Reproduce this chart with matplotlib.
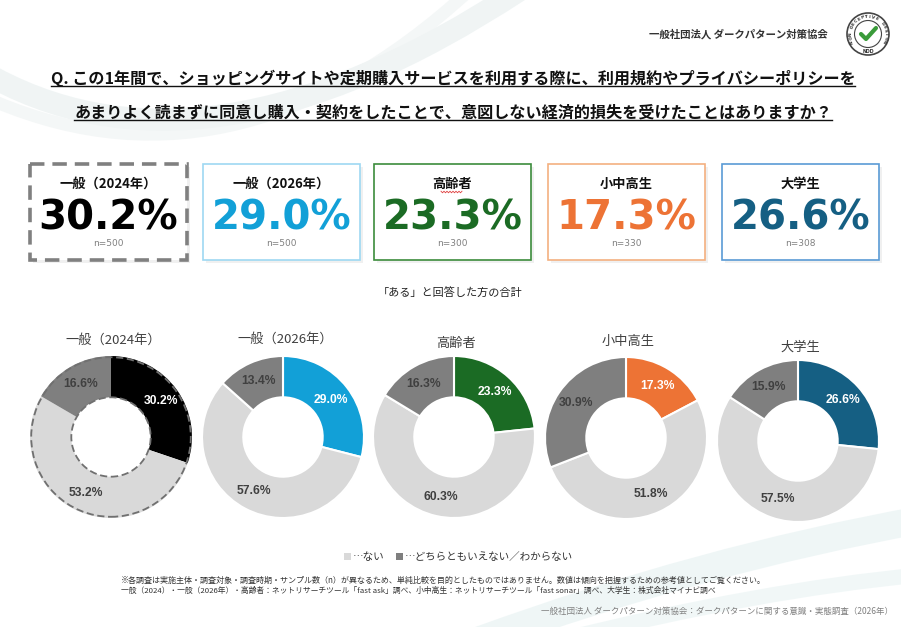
import numpy as np
import matplotlib
matplotlib.use('Agg')
import matplotlib.pyplot as plt
from matplotlib.patches import Rectangle, Circle, PathPatch
from matplotlib.path import Path

plt.rcParams['font.family'] = ['Noto Sans CJK JP', 'DejaVu Sans']

# survey results (%), one entry per respondent group
groups = ['一般（2024年）', '一般（2026年）', '高齢者', '小中高生', '大学生']
sample_sizes = [500, 500, 300, 330, 308]
aru = [30.2, 29.0, 23.3, 17.3, 26.6]        # ある
nai = [53.2, 57.6, 60.3, 51.8, 57.5]        # ない
wakaranai = [16.6, 13.4, 16.3, 30.9, 15.9]  # どちらともいえない／わからない

main_colors = ['#000000', '#12A0D7', '#1B6B24', '#ED7335', '#155F83']
box_edges = ['#808080', '#9ED8F2', '#3C8C3C', '#F4B080', '#5A9BD5']
LIGHT = '#D9D9D9'
DARK = '#7F7F7F'

W, H = 901, 627
fig = plt.figure(figsize=(W / 100, H / 100), dpi=100)
bg = fig.add_axes([0, 0, 1, 1])
bg.set_xlim(0, W)
bg.set_ylim(H, 0)
bg.axis('off')

# faint background swooshes
def swoosh(pts, color, lw, alpha):
    codes = [Path.MOVETO, Path.CURVE3, Path.CURVE3]
    bg.add_patch(PathPatch(Path(pts, codes), fill=False, edgecolor=color,
                           lw=lw, alpha=alpha, capstyle='round'))

swoosh([(-20, 70), (200, 200), (520, -10)], '#E6EEEE', 16, 0.6)
swoosh([(-20, 95), (230, 210), (470, -10)], '#F0F4F4', 9, 0.7)
swoosh([(480, 640), (700, 560), (920, 520)], '#E3F0F0', 20, 0.55)
swoosh([(560, 640), (760, 590), (920, 575)], '#EAF4F4', 11, 0.65)

# header + logo
bg.text(828, 34, '一般社団法人 ダークパターン対策協会', ha='right', va='center',
        fontsize=7.5, fontweight='bold', color='#333333')
lx, ly = 868, 34
bg.add_patch(Circle((lx, ly), 21, fill=True, facecolor='white', edgecolor='#444444', lw=1.2))
bg.add_patch(Circle((lx, ly), 13.5, fill=False, edgecolor='#444444', lw=0.8))
bg.plot([lx - 7, lx - 2, lx + 8], [ly, ly + 5, ly - 6], color='#3A9B3A', lw=3,
        solid_capstyle='round', solid_joinstyle='round')
ring = 'NON DECEPTIVE DESIGN'
angs = np.linspace(205, -25, len(ring))
for ch, a in zip(ring, angs):
    rad = np.deg2rad(a)
    bg.text(lx + 17.3 * np.cos(rad), ly - 17.3 * np.sin(rad), ch, fontsize=3.2,
            fontweight='bold', ha='center', va='center', rotation=a - 90,
            color='#333333', family='DejaVu Sans')
bg.text(lx, ly + 17.5, 'NDD', fontsize=3.4, fontweight='bold', ha='center',
        va='center', color='#333333', family='DejaVu Sans')

# question
q1 = bg.text(453, 78, 'Q. この1年間で、ショッピングサイトや定期購入サービスを利用する際に、利用規約やプライバシーポリシーを',
             ha='center', va='center', fontsize=11.6, fontweight='bold', color='#111111')
q2 = bg.text(453, 113, 'あまりよく読まずに同意し購入・契約をしたことで、意図しない経済的損失を受けたことはありますか？',
             ha='center', va='center', fontsize=11.6, fontweight='bold', color='#111111')

# summary boxes
box_left = [30, 203, 374, 548, 722]
box_w, box_top, box_bot = 157, 164, 260
for i, g in enumerate(groups):
    x0 = box_left[i]
    cx = x0 + box_w / 2
    bg.add_patch(Rectangle((x0 + 3, box_top + 3), box_w, box_bot - box_top,
                           facecolor='#F0F0F0', edgecolor='none', zorder=1))
    if i == 0:
        bg.add_patch(Rectangle((x0, box_top), box_w, box_bot - box_top, facecolor='white',
                               edgecolor=box_edges[i], lw=2.6, linestyle=(0, (4, 2.2)), zorder=2))
    else:
        bg.add_patch(Rectangle((x0, box_top), box_w, box_bot - box_top, facecolor='white',
                               edgecolor=box_edges[i], lw=1.2, zorder=2))
    bg.text(cx, 184, g, ha='center', va='center', fontsize=9.5, fontweight='bold',
            color='#111111', zorder=3)
    bg.text(cx, 219, f'{aru[i]:.1f}%', ha='center', va='center', fontsize=29,
            fontweight='bold', color=main_colors[i], family='DejaVu Sans', zorder=3)
    bg.text(cx, 244, f'n={sample_sizes[i]}', ha='center', va='center', fontsize=6.5,
            color='#808080', family='DejaVu Sans', zorder=3)

# red wavy spell-check line under 高齢者
wx = np.arange(441, 463, 1.5)
wy = 192 + np.where(np.arange(len(wx)) % 2 == 0, -0.8, 0.8)
bg.plot(wx, wy, color='#E04040', lw=0.6, zorder=3)

bg.text(450, 292, '「ある」と回答した方の合計', ha='center', va='center', fontsize=8, color='#222222')

# donuts
centers = [(111, 437), (283, 437), (454, 437), (626, 438), (798, 441)]
title_y = [340, 339, 343, 342, 347]
R = 81
for i, g in enumerate(groups):
    cx, cy = centers[i]
    ax = fig.add_axes([(cx - R) / W, (H - cy - R) / H, 2 * R / W, 2 * R / H])
    vals = [aru[i], nai[i], wakaranai[i]]
    cols = [main_colors[i], LIGHT, DARK]
    if i == 0:
        wp = dict(width=0.51, edgecolor='none')
    else:
        wp = dict(width=0.51, edgecolor='white', linewidth=1.5)
    wedges, _ = ax.pie(vals, colors=cols, startangle=90, counterclock=False,
                       wedgeprops=wp, radius=1)
    ax.set_xlim(-1, 1)
    ax.set_ylim(-1, 1)
    ax.set_aspect('equal')
    for w, v, k in zip(wedges, vals, range(3)):
        th = np.deg2rad((w.theta1 + w.theta2) / 2)
        ax.text(0.755 * np.cos(th), 0.755 * np.sin(th), f'{v:.1f}%', ha='center',
                va='center', fontsize=8.7, fontweight='bold', family='Liberation Sans',
                color='white' if k == 0 else '#404040')
    if i == 0:
        for rr in (0.985, 0.49):
            ax.add_patch(Circle((0, 0), rr, fill=False, edgecolor='#707070', lw=1.3,
                                linestyle=(0, (4, 2)), clip_on=False))
    bg.text(cx + 2, title_y[i], g, ha='center', va='center', fontsize=9.5, color='#404040')

# legend
bg.add_patch(Rectangle((344, 553), 7, 7, facecolor=LIGHT, edgecolor='none'))
bg.text(353, 557, '…ない', ha='left', va='center', fontsize=7.6, color='#333333')
bg.add_patch(Rectangle((396, 553), 7, 7, facecolor=DARK, edgecolor='none'))
bg.text(405, 557, '…どちらともいえない／わからない', ha='left', va='center', fontsize=7.6, color='#333333')

# notes
bg.text(121, 580, '※各調査は実施主体・調査対象・調査時期・サンプル数（n）が異なるため、単純比較を目的としたものではありません。数値は傾向を把握するための参考値としてご覧ください。',
        ha='left', va='center', fontsize=5.8, color='#333333')
bg.text(121, 591, '一般（2024）・一般（2026年）・高齢者：ネットリサーチツール「fast ask」調べ、小中高生：ネットリサーチツール「fast sonar」調べ、大学生：株式会社マイナビ調べ',
        ha='left', va='center', fontsize=5.6, color='#333333')
bg.text(893, 611, '一般社団法人 ダークパターン対策協会：ダークパターンに関する意識・実態調査（2026年）',
        ha='right', va='center', fontsize=6.1, color='#808080')

# underline the question
fig.canvas.draw()
rend = fig.canvas.get_renderer()
inv = bg.transData.inverted()
for t in (q1, q2):
    bb = t.get_window_extent(rend)
    (xa, ya), (xb, yb) = inv.transform([(bb.x0, bb.y0), (bb.x1, bb.y1)])
    bg.plot([xa, xb], [max(ya, yb) - 1, max(ya, yb) - 1], color='#111111', lw=1)

fig.savefig('out.png', dpi=100)
